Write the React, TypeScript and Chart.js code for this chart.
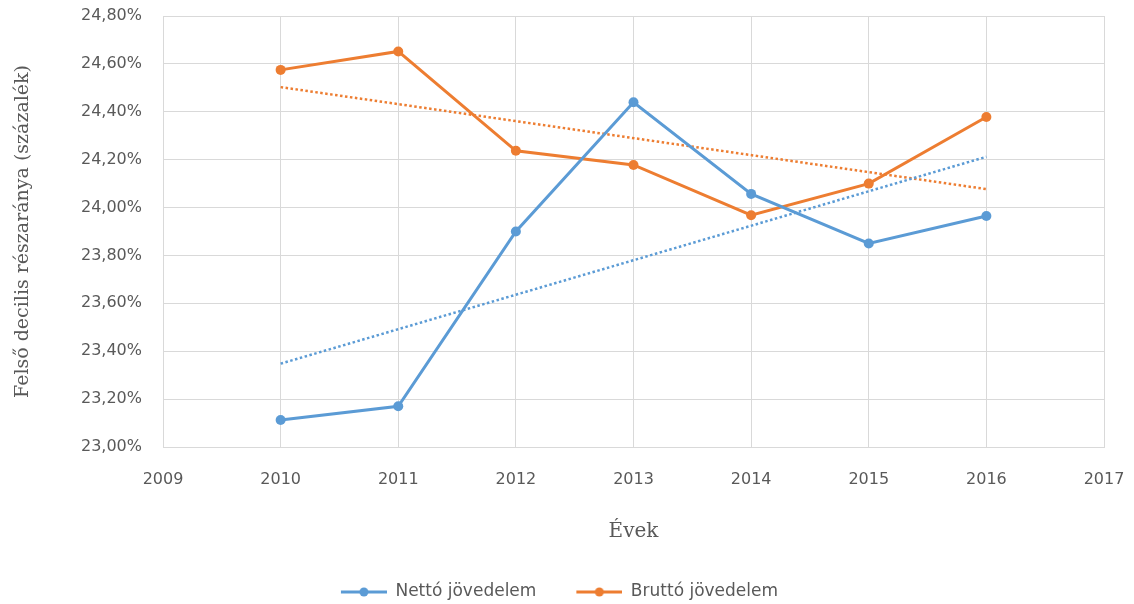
import React, { useEffect, useRef } from "react";
import { Chart, registerables } from "chart.js";

Chart.register(...registerables);

const years = [2010, 2011, 2012, 2013, 2014, 2015, 2016];
const nettoValues = [23.113, 23.17, 23.9, 24.44, 24.057, 23.85, 23.965];
const bruttoValues = [24.575, 24.652, 24.237, 24.178, 23.968, 24.1, 24.378];
const trendYears = [2010, 2016];
const nettoTrend = [23.348, 24.212];
const bruttoTrend = [24.503, 24.077];
const xTicks = [2009, 2010, 2011, 2012, 2013, 2014, 2015, 2016, 2017];
const yTicks = [23.0, 23.2, 23.4, 23.6, 23.8, 24.0, 24.2, 24.4, 24.6, 24.8];
const seriesLabels = ["Nettó jövedelem", "Bruttó jövedelem"];
const xTitle = "Évek";
const yTitle = "Felső decilis részaránya (százalék)";

const BLUE = "#5B9BD5";
const ORANGE = "#ED7D31";
const GRID = "#d9d9d9";
const TEXT = "#595959";

function makeMarker(color: string): HTMLCanvasElement {
  const c = document.createElement("canvas");
  c.width = 61;
  c.height = 12;
  const g = c.getContext("2d")!;
  g.strokeStyle = color;
  g.lineWidth = 3;
  g.beginPath();
  g.moveTo(15, 6);
  g.lineTo(61, 6);
  g.stroke();
  g.fillStyle = color;
  g.beginPath();
  g.arc(38, 6, 4.5, 0, Math.PI * 2);
  g.fill();
  return c;
}

const pts = (xs: number[], ys: number[]) => xs.map((x, i) => ({ x, y: ys[i] }));

export default function App() {
  const ref = useRef<HTMLCanvasElement | null>(null);
  useEffect(() => {
    if (!ref.current) return;
    const markers = [makeMarker(BLUE), makeMarker(ORANGE)];
    const chart = new Chart(ref.current, {
      type: "line",
      data: {
        datasets: [
          {
            label: seriesLabels[0],
            data: pts(years, nettoValues),
            borderColor: BLUE,
            backgroundColor: BLUE,
            borderWidth: 3,
            pointRadius: 5,
            pointBorderWidth: 0,
            tension: 0,
          },
          {
            label: seriesLabels[1],
            data: pts(years, bruttoValues),
            borderColor: ORANGE,
            backgroundColor: ORANGE,
            borderWidth: 3,
            pointRadius: 5,
            pointBorderWidth: 0,
            tension: 0,
          },
          {
            label: "trend1",
            data: pts(trendYears, nettoTrend),
            borderColor: BLUE,
            borderWidth: 2.5,
            borderDash: [2.5, 2.5],
            pointRadius: 0,
          },
          {
            label: "trend2",
            data: pts(trendYears, bruttoTrend),
            borderColor: ORANGE,
            borderWidth: 2.5,
            borderDash: [2.5, 2.5],
            pointRadius: 0,
          },
        ],
      },
      options: {
        animation: false,
        responsive: false,
        layout: { padding: { left: 0, right: 30, top: 16, bottom: -6.5 } },
        plugins: {
          tooltip: { enabled: false },
          legend: {
            position: "bottom",
            labels: {
              color: TEXT,
              font: { family: "DejaVu Sans", size: 17 },
              padding: 25,
              usePointStyle: true,
              pointStyleWidth: 61,
              generateLabels: () =>
                seriesLabels.map((t, i) => ({
                  text: t,
                  datasetIndex: i,
                  pointStyle: markers[i],
                  fillStyle: i === 0 ? BLUE : ORANGE,
                  strokeStyle: i === 0 ? BLUE : ORANGE,
                  fontColor: TEXT,
                  lineWidth: 0,
                  hidden: false,
                })),
            },
          },
        },
        scales: {
          x: {
            type: "linear",
            min: 2009,
            max: 2017,
            afterBuildTicks: (axis: any) => {
              axis.ticks = xTicks.map((v) => ({ value: v }));
            },
            afterFit: (axis: any) => {
              axis.height = 111.5;
            },
            grid: { color: GRID, lineWidth: 1, drawTicks: true, tickLength: 23, tickColor: "rgba(0,0,0,0)" },
            border: { color: GRID, width: 1 },
            ticks: {
              color: TEXT,
              font: { family: "DejaVu Sans", size: 16 },
              padding: 0,
              maxRotation: 0,
              callback: (v: any) => String(v),
            },
            title: {
              display: true,
              text: xTitle,
              color: TEXT,
              font: { family: "DejaVu Serif", size: 20 },
              padding: { top: 0, bottom: 14.5 },
            },
          },
          y: {
            type: "linear",
            min: 23.0,
            max: 24.8,
            afterBuildTicks: (axis: any) => {
              axis.ticks = yTicks.map((v) => ({ value: v }));
            },
            afterFit: (axis: any) => {
              axis.width = 163;
            },
            grid: { color: GRID, lineWidth: 1, drawTicks: true, tickLength: 21, tickColor: "rgba(0,0,0,0)" },
            border: { color: GRID, width: 1 },
            ticks: {
              color: TEXT,
              font: { family: "DejaVu Sans", size: 16 },
              padding: 0,
              callback: (v: any) => Number(v).toFixed(2).replace(".", ",") + "%",
            },
            title: {
              display: true,
              text: yTitle,
              color: TEXT,
              font: { family: "DejaVu Serif", size: 19 },
              padding: { top: 12, bottom: 0 },
            },
          },
        },
      },
    } as any);
    return () => chart.destroy();
  }, []);
  return (
    <div style={{ position: "absolute", left: 0, top: 0, width: 1134, height: 604, background: "#fff" }}>
      <canvas ref={ref} width={1134} height={604} style={{ width: 1134, height: 604 }} />
    </div>
  );
}
